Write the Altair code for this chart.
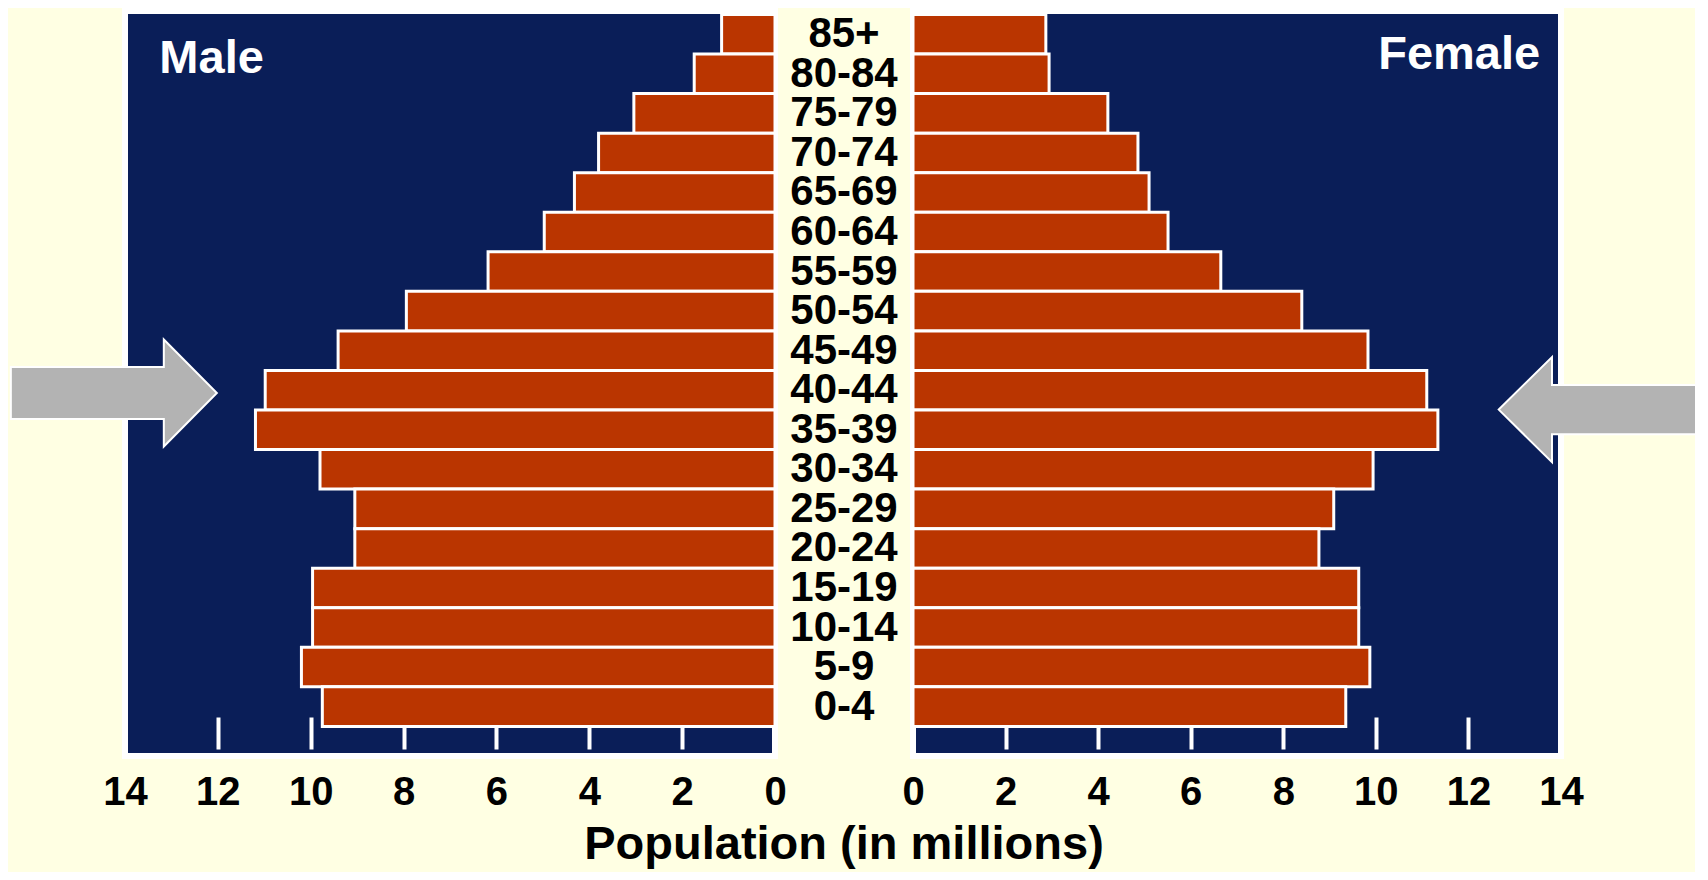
import altair as alt
import pandas as pd

# ---- data ----
ages = ["85+", "80-84", "75-79", "70-74", "65-69", "60-64", "55-59", "50-54",
        "45-49", "40-44", "35-39", "30-34", "25-29", "20-24", "15-19", "10-14",
        "5-9", "0-4"]
male = [1.15, 1.74, 3.04, 3.80, 4.32, 4.97, 6.18, 7.94, 9.41, 10.98, 11.19,
        9.80, 9.05, 9.05, 9.96, 9.96, 10.20, 9.75]
female = [2.87, 2.94, 4.21, 4.86, 5.10, 5.51, 6.65, 8.40, 9.83, 11.10, 11.34,
          9.94, 9.09, 8.77, 9.63, 9.63, 9.87, 9.35]
tick_values = [0, 2, 4, 6, 8, 10, 12, 14]

# annotations (in data units: millions / age-row index)
panel_names = ["Male", "Female"]
panel_name_x = [13.26, 13.55]
panel_name_y = [1.48, 1.38]
arrow_x = [14.24, 14.88]
arrow_y = [9.57, 9.99]
x_title = "Population (in millions)"

# ---- styling ----
FONT = "Liberation Sans"
NAVY = "#0A1E58"
BAR = "#BA3500"
CREAM = "#FFFFE3"
GRAY = "#B3B3B3"
LEFT_ARROW = "M -1 -0.252 L 0.485 -0.252 L 0.485 -0.52 L 1 0 L 0.485 0.52 L 0.485 0.252 L -1 0.252 Z"
RIGHT_ARROW = "M 0.95 -0.238 L -0.483 -0.238 L -0.483 -0.51 L -1 0 L -0.483 0.51 L -0.483 0.238 L 0.95 0.238 Z"

H = 745
y_scale = alt.Scale(domain=[-0.0885, 18.748], reverse=True, nice=False, zero=False)

x_axis = alt.Axis(
    values=tick_values, format="d", title=None, domain=False, grid=False,
    tickSize=32, tickWidth=4, tickColor="white",
    tickOpacity={"condition": {"test": "datum.value == 0 || datum.value == 14", "value": 0}, "value": 1},
    offset=-39, labelPadding=23, labelFlush=False, labelOverlap=False, labelBound=False,
    labelFontSize=40, labelFont=FONT, labelFontWeight="bold", labelColor="black",
)


def panel(values, side, width):
    rev = side == 0
    xs = alt.Scale(domain=[0, 14], reverse=rev, nice=False, zero=False)

    def X(field):
        return alt.X(field, type="quantitative", scale=xs, axis=x_axis)

    bars_df = pd.DataFrame({
        "age": ages, "x": values, "x0": [0] * len(ages),
        "y0": list(range(len(ages))), "y1": [i + 1 for i in range(len(ages))],
    })
    bars = alt.Chart(bars_df).mark_rect(fill=BAR, stroke="white", strokeWidth=3).encode(
        x=X("x"), x2="x0:Q",
        y=alt.Y("y0:Q", scale=y_scale, axis=None), y2="y1:Q",
    )
    arrow_df = pd.DataFrame({"x": [arrow_x[side]], "y": [arrow_y[side]]})
    arrow = alt.Chart(arrow_df).mark_point(
        shape=LEFT_ARROW if side == 0 else RIGHT_ARROW, size=42436, filled=True,
        fill=GRAY, stroke="white", strokeWidth=2, opacity=1,
    ).encode(x=X("x"), y=alt.Y("y:Q", scale=y_scale, axis=None))
    name_df = pd.DataFrame({"x": [panel_name_x[side]], "y": [panel_name_y[side]],
                            "name": [panel_names[side]]})
    name = alt.Chart(name_df).mark_text(
        align="left" if side == 0 else "right", baseline="alphabetic",
        fontSize=47, font=FONT, fontWeight="bold", color="white",
    ).encode(x=X("x"), y=alt.Y("y:Q", scale=y_scale, axis=None), text="name:N")
    return alt.layer(bars, arrow, name).properties(
        width=width, height=H,
        view=alt.ViewBackground(fill=NAVY, stroke="white", strokeWidth=6),
    )


left = panel(male, 0, 650)
right = panel(female, 1, 648)

mid_df = pd.DataFrame({"age": ages, "yc": [i + 0.5 for i in range(len(ages))]})
mid = alt.Chart(mid_df).mark_text(
    fontSize=42, font=FONT, fontWeight="bold", color="black",
    align="center", baseline="middle",
).encode(
    x=alt.value(69),
    y=alt.Y("yc:Q", scale=y_scale, axis=None),
    text="age:N",
).properties(
    width=138, height=H, view=alt.ViewBackground(strokeWidth=0),
    title=alt.TitleParams(
        text=x_title, orient="bottom", anchor="middle", baseline="alphabetic",
        fontSize=47, font=FONT, fontWeight="bold", color="black", offset=103,
    ),
)

chart = alt.hconcat(left, mid, right, spacing=0, bounds="flush").properties(
    padding={"left": -5, "top": 0, "right": -12, "bottom": 4},
).configure(background=CREAM).configure_view(strokeWidth=0)

chart.save("out.html", embed_options={"renderer": "svg", "actions": False})
